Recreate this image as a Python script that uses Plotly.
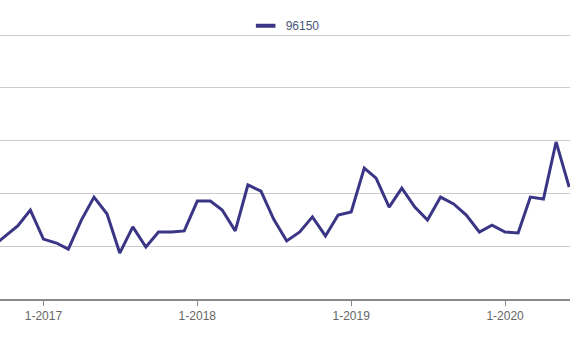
import plotly.graph_objects as go

months = ["2016-09-01", "2016-10-01", "2016-11-01", "2016-12-01",
          "2017-01-01", "2017-02-01", "2017-03-01", "2017-04-01", "2017-05-01", "2017-06-01",
          "2017-07-01", "2017-08-01", "2017-09-01", "2017-10-01", "2017-11-01", "2017-12-01",
          "2018-01-01", "2018-02-01", "2018-03-01", "2018-04-01", "2018-05-01", "2018-06-01",
          "2018-07-01", "2018-08-01", "2018-09-01", "2018-10-01", "2018-11-01", "2018-12-01",
          "2019-01-01", "2019-02-01", "2019-03-01", "2019-04-01", "2019-05-01", "2019-06-01",
          "2019-07-01", "2019-08-01", "2019-09-01", "2019-10-01", "2019-11-01", "2019-12-01",
          "2020-01-01", "2020-02-01", "2020-03-01", "2020-04-01", "2020-05-01", "2020-06-01"]

values_96150 = [19.7, 23.5, 27.7, 33.7,
                22.7, 21.2, 18.9, 29.9, 38.6, 32.2,
                17.4, 27.3, 19.7, 25.4, 25.4, 25.8,
                37.1, 37.1, 33.7, 25.8, 43.2, 40.9,
                30.3, 22.0, 25.4, 31.1, 23.9, 31.8,
                33.0, 49.6, 45.8, 34.8, 42.0, 34.8,
                29.9, 38.6, 36.0, 31.8, 25.4, 28.0,
                25.4, 25.0, 38.6, 37.9, 59.5, 42.4]

series_name = "96150"
line_color = "#3a3585"

fig = go.Figure()
fig.add_trace(go.Scatter(
    x=months, y=values_96150, mode="lines", name=series_name,
    line=dict(color=line_color, width=3), showlegend=False,
))
# legend-only entry with a short, thick swatch
fig.add_trace(go.Scatter(
    x=[None], y=[None], mode="markers", name=series_name,
    marker=dict(symbol="line-ew", size=14, line=dict(color=line_color, width=4)),
    showlegend=True,
))

fig.update_layout(
    width=570, height=350,
    margin=dict(l=0, r=0, t=34, b=51),
    paper_bgcolor="white", plot_bgcolor="white",
    font=dict(family="Liberation Sans, Arial, sans-serif", size=12, color="#666666"),
    showlegend=True,
    legend=dict(orientation="h", x=0.431, xanchor="left", y=1.031, yanchor="middle",
                font=dict(size=12, color="#4a5578"), bgcolor="rgba(0,0,0,0)"),
    xaxis=dict(
        type="date",
        range=["2016-09-20", "2020-06-03"],
        tick0="2017-01-01", dtick="M12", tickformat="%-m-%Y",
        ticks="outside", ticklen=5, tickcolor="#888888", tickwidth=1,
        showline=True, linecolor="#888888", linewidth=2,
        showgrid=False, zeroline=False,
        tickfont=dict(size=12, color="#666666"),
    ),
    yaxis=dict(
        range=[0, 100.4], tick0=0, dtick=20,
        showticklabels=False, showgrid=True, gridcolor="#cccccc", gridwidth=1,
        zeroline=False, showline=False,
    ),
)

fig.write_html("out.html")
